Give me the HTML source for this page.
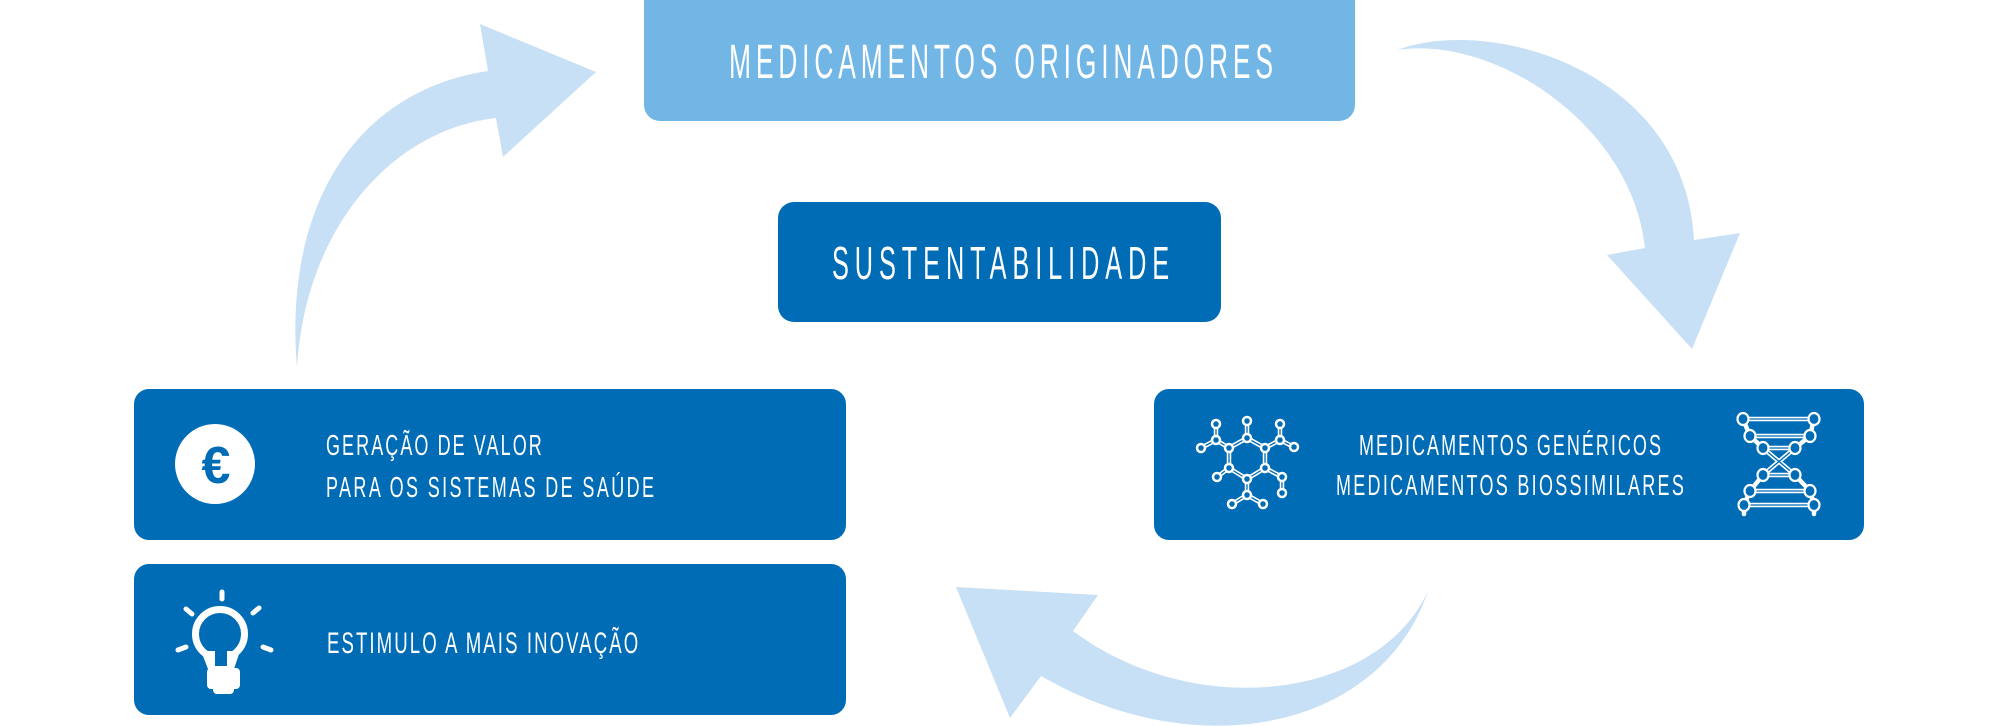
<!DOCTYPE html>
<html>
<head>
<meta charset="utf-8">
<style>
  html, body { margin: 0; padding: 0; background: #ffffff; }
  svg { display: block; }
  text { font-family: "Liberation Sans", "DejaVu Sans", sans-serif; fill: #ffffff; }
</style>
</head>
<body>
<svg width="2000" height="726" viewBox="0 0 2000 726" xmlns="http://www.w3.org/2000/svg">
  <rect x="0" y="0" width="2000" height="726" fill="#ffffff"/>

  <!-- Arrows -->
  <g fill="#c8e0f5">
    <path d="M 297,368 C 283,200 360,90 488,71 L 480,24 L 596,72 L 503,157 L 496,118 C 390,130 305,230 297,368 Z"/>
    <path d="M 1397,50 C 1490,15 1685,70 1694,240 L 1740,233 L 1692,349 L 1607,255 L 1645,248 C 1632,125 1495,35 1397,50 Z"/>
    <path d="M 1428,591 C 1378,700 1195,722 1073,631 L 1098,595 L 956,587 L 1010,718 L 1041,676 C 1200,768 1382,728 1428,591 Z"/>
  </g>

  <!-- Top box -->
  <rect x="644" y="-16" width="711" height="137" rx="16" ry="16" fill="#72b6e5"/>
  <g transform="translate(729,78) scale(0.55,1)">
    <text x="0" y="0" font-size="48" textLength="989" lengthAdjust="spacing">MEDICAMENTOS ORIGINADORES</text>
  </g>

  <!-- Sustentabilidade -->
  <rect x="778" y="202" width="443" height="120" rx="16" ry="16" fill="#006cb5"/>
  <g transform="translate(832,279) scale(0.55,1)">
    <text x="0" y="0" font-size="46" textLength="613" lengthAdjust="spacing">SUSTENTABILIDADE</text>
  </g>

  <!-- Left box 1 -->
  <rect x="134" y="389" width="712" height="151" rx="15" ry="15" fill="#006cb5"/>
  <circle cx="215" cy="464" r="40" fill="#ffffff"/>
  <text x="216" y="483" font-size="52" font-weight="bold" text-anchor="middle" style="fill:#006cb5">€</text>
  <g transform="translate(326,455) scale(0.62,1)">
    <text x="0" y="0" font-size="29" textLength="348" lengthAdjust="spacing">GERAÇÃO DE VALOR</text>
  </g>
  <g transform="translate(326,497) scale(0.62,1)">
    <text x="0" y="0" font-size="29" textLength="529" lengthAdjust="spacing">PARA OS SISTEMAS DE SAÚDE</text>
  </g>

  <!-- Left box 2 -->
  <rect x="134" y="564" width="712" height="151" rx="15" ry="15" fill="#006cb5"/>
  <g fill="#ffffff" stroke="none">
    <circle cx="220" cy="634" r="24.5" fill="none" stroke="#ffffff" stroke-width="7"/>
    <polygon points="201,651 208,669 234,669 240,651"/>
    <rect x="215" y="650" width="12" height="16" fill="#006cb5"/>
    <rect x="207" y="668" width="33" height="21" rx="4"/>
    <rect x="213" y="685" width="21" height="9" rx="4"/>
  </g>
  <g stroke="#ffffff" stroke-width="5" stroke-linecap="round" fill="none">
    <line x1="222" y1="592" x2="222" y2="599"/>
    <line x1="186" y1="609" x2="192" y2="614"/>
    <line x1="259" y1="608" x2="253" y2="613"/>
    <line x1="178" y1="650" x2="186" y2="647"/>
    <line x1="263" y1="647" x2="271" y2="650"/>
  </g>
  <g transform="translate(327,653) scale(0.62,1)">
    <text x="0" y="0" font-size="30" textLength="502" lengthAdjust="spacing">ESTIMULO A MAIS INOVAÇÃO</text>
  </g>

  <!-- Right box -->
  <rect x="1154" y="389" width="710" height="151" rx="15" ry="15" fill="#006cb5"/>
  <g transform="translate(1359,455) scale(0.62,1)">
    <text x="0" y="0" font-size="29" textLength="487" lengthAdjust="spacing">MEDICAMENTOS GENÉRICOS</text>
  </g>
  <g transform="translate(1336,495) scale(0.62,1)">
    <text x="0" y="0" font-size="29" textLength="561" lengthAdjust="spacing">MEDICAMENTOS BIOSSIMILARES</text>
  </g>

  <!-- Molecule icon -->
  <g stroke-linecap="round">
    <g stroke="#ffffff" stroke-width="4.5">
      <line x1="1229" y1="448" x2="1247" y2="438"/>
      <line x1="1247" y1="438" x2="1265" y2="448"/>
      <line x1="1265" y1="448" x2="1265" y2="468"/>
      <line x1="1265" y1="468" x2="1247" y2="479"/>
      <line x1="1247" y1="479" x2="1229" y2="468"/>
      <line x1="1229" y1="468" x2="1229" y2="448"/>
      <line x1="1247" y1="438" x2="1247" y2="421"/>
      <line x1="1229" y1="448" x2="1216" y2="440"/>
      <line x1="1216" y1="440" x2="1216" y2="424"/>
      <line x1="1216" y1="440" x2="1201" y2="448"/>
      <line x1="1265" y1="448" x2="1280" y2="440"/>
      <line x1="1280" y1="440" x2="1280" y2="424"/>
      <line x1="1280" y1="440" x2="1294" y2="447"/>
      <line x1="1265" y1="468" x2="1282" y2="477"/>
      <line x1="1282" y1="477" x2="1282" y2="493"/>
      <line x1="1229" y1="468" x2="1217" y2="477"/>
      <line x1="1247" y1="479" x2="1247" y2="495"/>
      <line x1="1247" y1="495" x2="1232" y2="504"/>
      <line x1="1247" y1="495" x2="1263" y2="504"/>
    </g>
    <g stroke="#006cb5" stroke-width="1.3">
      <line x1="1229" y1="448" x2="1247" y2="438"/>
      <line x1="1247" y1="438" x2="1265" y2="448"/>
      <line x1="1265" y1="448" x2="1265" y2="468"/>
      <line x1="1265" y1="468" x2="1247" y2="479"/>
      <line x1="1247" y1="479" x2="1229" y2="468"/>
      <line x1="1229" y1="468" x2="1229" y2="448"/>
      <line x1="1247" y1="438" x2="1247" y2="421"/>
      <line x1="1229" y1="448" x2="1216" y2="440"/>
      <line x1="1216" y1="440" x2="1216" y2="424"/>
      <line x1="1216" y1="440" x2="1201" y2="448"/>
      <line x1="1265" y1="448" x2="1280" y2="440"/>
      <line x1="1280" y1="440" x2="1280" y2="424"/>
      <line x1="1280" y1="440" x2="1294" y2="447"/>
      <line x1="1265" y1="468" x2="1282" y2="477"/>
      <line x1="1282" y1="477" x2="1282" y2="493"/>
      <line x1="1229" y1="468" x2="1217" y2="477"/>
      <line x1="1247" y1="479" x2="1247" y2="495"/>
      <line x1="1247" y1="495" x2="1232" y2="504"/>
      <line x1="1247" y1="495" x2="1263" y2="504"/>
    </g>
  </g>
  <g fill="#006cb5" stroke="#ffffff" stroke-width="2.5">
    <circle cx="1229" cy="448" r="4"/>
    <circle cx="1247" cy="438" r="4"/>
    <circle cx="1265" cy="448" r="4"/>
    <circle cx="1265" cy="468" r="4"/>
    <circle cx="1247" cy="479" r="4"/>
    <circle cx="1229" cy="468" r="4"/>
    <circle cx="1247" cy="421" r="4"/>
    <circle cx="1216" cy="440" r="4"/>
    <circle cx="1216" cy="424" r="4"/>
    <circle cx="1201" cy="448" r="4"/>
    <circle cx="1280" cy="440" r="4"/>
    <circle cx="1280" cy="424" r="4"/>
    <circle cx="1294" cy="447" r="4"/>
    <circle cx="1282" cy="477" r="4"/>
    <circle cx="1282" cy="493" r="4"/>
    <circle cx="1217" cy="477" r="4"/>
    <circle cx="1247" cy="495" r="4"/>
    <circle cx="1232" cy="504" r="4"/>
    <circle cx="1263" cy="504" r="4"/>
  </g>

  <!-- DNA icon -->
  <g stroke-linecap="round">
    <g stroke="#ffffff" stroke-width="4.5">
      <line x1="1743" y1="419" x2="1814" y2="419"/>
      <line x1="1750" y1="436" x2="1810" y2="436"/>
      <line x1="1763" y1="448" x2="1795" y2="448"/>
      <line x1="1763" y1="475" x2="1795" y2="475"/>
      <line x1="1750" y1="491" x2="1810" y2="491"/>
      <line x1="1744" y1="505" x2="1814" y2="505"/>
      <line x1="1763" y1="448" x2="1795" y2="475"/>
      <line x1="1795" y1="448" x2="1763" y2="475"/>
      <line x1="1743" y1="419" x2="1750" y2="436"/>
      <line x1="1750" y1="436" x2="1763" y2="448"/>
      <line x1="1763" y1="475" x2="1750" y2="491"/>
      <line x1="1750" y1="491" x2="1744" y2="505"/>
      <line x1="1814" y1="419" x2="1810" y2="436"/>
      <line x1="1810" y1="436" x2="1795" y2="448"/>
      <line x1="1795" y1="475" x2="1810" y2="491"/>
      <line x1="1810" y1="491" x2="1814" y2="505"/>
      <line x1="1744" y1="505" x2="1744" y2="514"/>
      <line x1="1814" y1="505" x2="1814" y2="514"/>
    </g>
    <g stroke="#006cb5" stroke-width="1.3">
      <line x1="1743" y1="419" x2="1814" y2="419"/>
      <line x1="1750" y1="436" x2="1810" y2="436"/>
      <line x1="1763" y1="448" x2="1795" y2="448"/>
      <line x1="1763" y1="475" x2="1795" y2="475"/>
      <line x1="1750" y1="491" x2="1810" y2="491"/>
      <line x1="1744" y1="505" x2="1814" y2="505"/>
      <line x1="1763" y1="448" x2="1795" y2="475"/>
      <line x1="1795" y1="448" x2="1763" y2="475"/>
    </g>
  </g>
  <g fill="#006cb5" stroke="#ffffff" stroke-width="2.2">
    <ellipse cx="1743" cy="419" rx="5.5" ry="6"/>
    <ellipse cx="1750" cy="436" rx="5.5" ry="6"/>
    <ellipse cx="1763" cy="448" rx="5.5" ry="6"/>
    <ellipse cx="1763" cy="475" rx="5.5" ry="6"/>
    <ellipse cx="1750" cy="491" rx="5.5" ry="6"/>
    <ellipse cx="1744" cy="505" rx="5.5" ry="6"/>
    <ellipse cx="1814" cy="419" rx="5.5" ry="6"/>
    <ellipse cx="1810" cy="436" rx="5.5" ry="6"/>
    <ellipse cx="1795" cy="448" rx="5.5" ry="6"/>
    <ellipse cx="1795" cy="475" rx="5.5" ry="6"/>
    <ellipse cx="1810" cy="491" rx="5.5" ry="6"/>
    <ellipse cx="1814" cy="505" rx="5.5" ry="6"/>
  </g>
</svg>
</body>
</html>
